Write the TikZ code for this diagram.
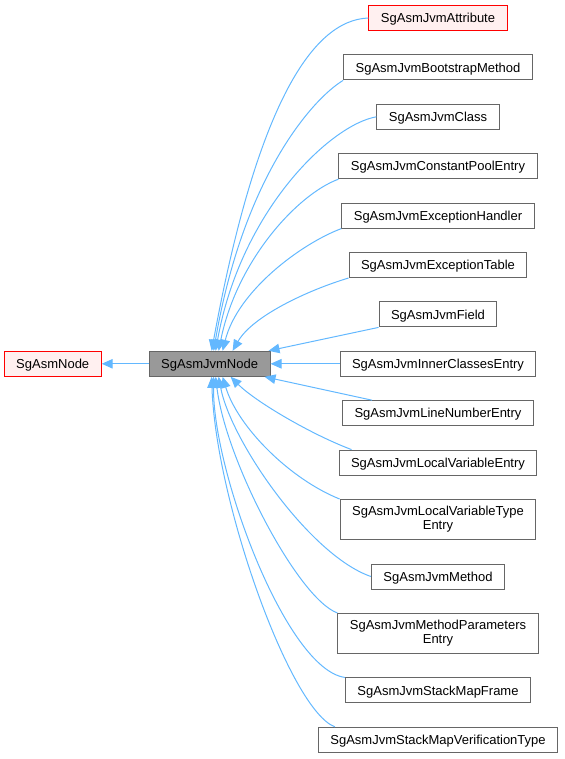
\documentclass[tikz,border=0pt]{standalone}
\usepackage{fontspec}
\setmainfont{Liberation Sans}
\usetikzlibrary{arrows.meta,positioning}

\definecolor{edgeblue}{HTML}{63B8FF}
\definecolor{boxgray}{HTML}{666666}
\definecolor{jvmfill}{HTML}{999999}
\definecolor{redfill}{HTML}{FFF0F0}

\begin{document}
\begin{tikzpicture}[
  x=1pt, y=-1pt,
  node distance=23.4pt and 47pt,
  classbox/.style={rectangle, draw=boxgray, fill=white, line width=1pt,
    minimum height=25pt, inner xsep=12pt, inner ysep=6.5pt,
    text height=9.5pt, text depth=0pt, font=\fontsize{13}{14}\selectfont},
  twoline/.style={classbox, align=center, text height=, text depth=, inner ysep=7pt},
  currentbox/.style={classbox, fill=jvmfill},
  undocbox/.style={classbox, draw=red, fill=redfill},
  link/.style={-{Triangle[length=11pt,width=9.5pt]}, draw=edgeblue, line width=1pt},
]
  \useasboundingbox (0,0) rectangle (564,759);

  % derived classes, one column
  \node[undocbox] (attr) at (438,18) {SgAsmJvmAttribute};
  \node[classbox, below=of attr] (boot) {SgAsmJvmBootstrapMethod};
  \node[classbox, below=of boot] (cls) {SgAsmJvmClass};
  \node[classbox, below=of cls] (cpool) {SgAsmJvmConstantPoolEntry};
  \node[classbox, below=of cpool] (exh) {SgAsmJvmExceptionHandler};
  \node[classbox, below=of exh] (ext) {SgAsmJvmExceptionTable};
  \node[classbox, below=of ext] (fld) {SgAsmJvmField};
  \node[classbox, below=of fld] (inner) {SgAsmJvmInnerClassesEntry};
  \node[classbox, below=of inner] (lnum) {SgAsmJvmLineNumberEntry};
  \node[classbox, below=of lnum] (lve) {SgAsmJvmLocalVariableEntry};
  \node[twoline, below=of lve] (lvt) {SgAsmJvmLocalVariableType\\Entry};
  \node[classbox, below=of lvt] (meth) {SgAsmJvmMethod};
  \node[twoline, below=of meth] (mpar) {SgAsmJvmMethodParameters\\Entry};
  \node[classbox, below=of mpar] (smf) {SgAsmJvmStackMapFrame};
  \node[classbox, below=of smf] (smvt) {SgAsmJvmStackMapVerificationType};

  % base classes
  \node[currentbox, left=69pt of inner] (jvm) {SgAsmJvmNode};
  \node[undocbox, left=of jvm] (sgasm) {SgAsmNode};

  \draw[link] (jvm) -- (sgasm);

  \draw[link] (attr.west) .. controls +(-58,2) and +(44,-240) .. ([xshift=2pt]jvm.north);
  \draw[link] (boot.south west) .. controls +(-30,18) and +(30,-175) .. ([xshift=4pt]jvm.north);
  \draw[link] (cls.west) .. controls +(-46,8) and +(25,-140) .. ([xshift=6pt]jvm.north);
  \draw[link] (cpool.south west) .. controls +(-41,15) and +(18,-90) .. ([xshift=9pt]jvm.north);
  \draw[link] (exh.south west) .. controls +(-40,15) and +(15,-60) .. ([xshift=13pt]jvm.north);
  \draw[link] (ext.south west) .. controls +(-40,12) and +(20,-35) .. ([xshift=23pt]jvm.north);
  \draw[link] (fld.south west) -- ([xshift=-2pt]jvm.north east);
  \draw[link] (inner.west) -- (jvm.east);
  \draw[link] ([xshift=30pt]lnum.north west) -- ([xshift=-6pt]jvm.south east);
  \draw[link] ([xshift=13pt]lve.north west) .. controls +(-40,-15) and +(25,25) .. ([xshift=21pt]jvm.south);
  \draw[link] (lvt.north west) .. controls +(-50,-20) and +(15,50) .. ([xshift=13pt]jvm.south);
  \draw[link] (meth.west) .. controls +(-61,-21) and +(12,64) .. ([xshift=9pt]jvm.south);
  \draw[link] (mpar.north west) .. controls +(-39,-14) and +(10,84) .. ([xshift=6pt]jvm.south);
  \draw[link] (smf.north west) .. controls +(-59,-8) and +(-1,94) .. ([xshift=4pt]jvm.south);
  \draw[link] ([xshift=17pt]smvt.north west) .. controls +(-45,-17) and +(4,124) .. ([xshift=2pt]jvm.south);
\end{tikzpicture}
\end{document}
